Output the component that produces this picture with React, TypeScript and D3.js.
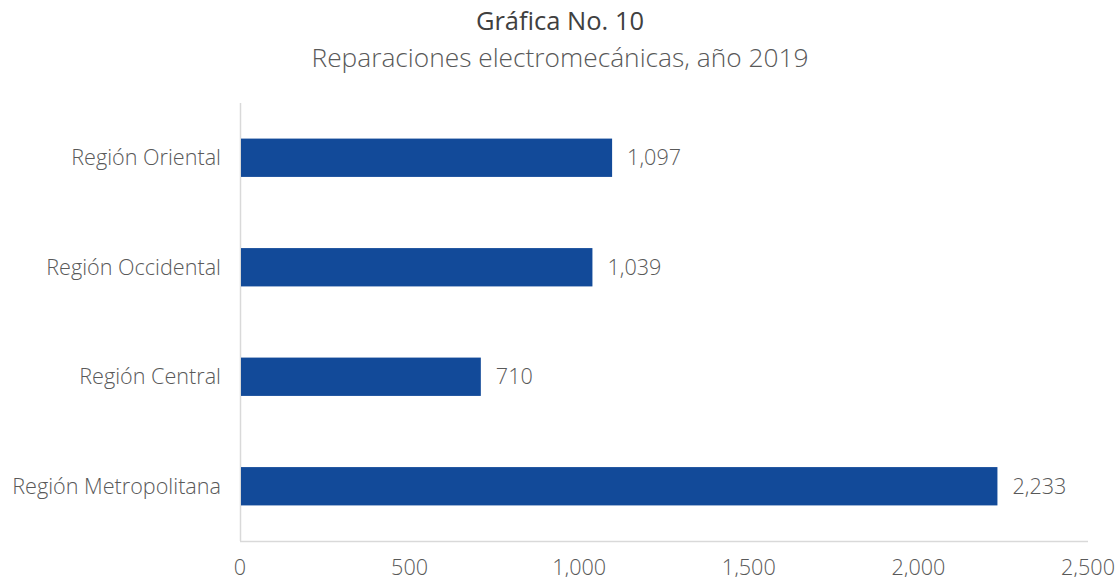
import React from "react";
import * as d3 from "d3";

const categories = ["Región Oriental", "Región Occidental", "Región Central", "Región Metropolitana"];
const values = [1097, 1039, 710, 2233];
const xTicks = [0, 500, 1000, 1500, 2000, 2500];
const title = "Gráfica No. 10";
const subtitle = "Reparaciones electromecánicas, año 2019";

const W = 1119;
const H = 577;
const FONT = "'Open Sans', 'Noto Sans', sans-serif";

export default function App() {
  const x = d3.scaleLinear().domain([0, 2500]).range([240, 1088]);
  const y = d3.scaleBand<string>().domain(categories).range([103, 541]).paddingInner(0.65).paddingOuter(0.325);
  const fmt = d3.format(",");
  return (
    <svg width={W} height={H} style={{ position: "absolute", left: 0, top: 0, background: "#fff" }}>
      <text x={560} y={30} textAnchor="middle" fontFamily={FONT} fontSize={25.5} fontWeight={500} fill="#404040">{title}</text>
      <text x={560} y={67} textAnchor="middle" fontFamily={FONT} fontSize={26.3} fontWeight={300} fill="#595959">{subtitle}</text>
      <line x1={240.5} x2={240.5} y1={103} y2={541} stroke="#d9d9d9" strokeWidth={1.5} />
      <line x1={240} x2={1088} y1={541.5} y2={541.5} stroke="#d9d9d9" strokeWidth={1.5} />
      {categories.map((c, i) => (
        <g key={c}>
          <rect x={x(0) + 1} y={y(c)!} width={x(values[i]) - x(0) - 1} height={y.bandwidth()} fill="#124A99" />
          <text x={221} y={y(c)! + y.bandwidth() / 2} dy="0.35em" textAnchor="end" fontFamily={FONT} fontSize={21.6} fontWeight={300} fill="#595959">{c}</text>
          <text x={x(values[i]) + 15} y={y(c)! + y.bandwidth() / 2} dy="0.35em" textAnchor="start" fontFamily={FONT} fontSize={21.6} fontWeight={300} fill="#595959">{fmt(values[i])}</text>
        </g>
      ))}
      {xTicks.map((t) => (
        <text key={t} x={x(t)} y={575} textAnchor="middle" fontFamily={FONT} fontSize={21.6} fontWeight={300} fill="#595959">{fmt(t)}</text>
      ))}
    </svg>
  );
}
